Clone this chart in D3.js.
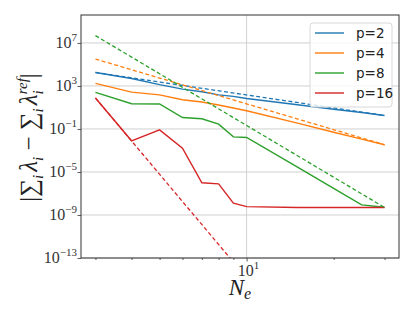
<!DOCTYPE html>
<html>
<head>
<meta charset="utf-8">
<script src="https://cdn.jsdelivr.net/npm/d3@7"></script>
<style>
  body { margin: 0; background: #fff; }
  svg { display: block; }
</style>
</head>
<body>
<svg id="chart"></svg>
<script>
// Data **********************************************************************
const neVals = [3, 4, 5, 6, 7, 8, 9, 10, 15, 20, 25, 30];   // N_e for the solid curves

const errP2  = [1.8e4, 5.0e3, 1.32e3, 5.1e2, 2.9e2, 1.5e2, 1.07e2, 69, 18, 6.9, 3.4, 1.8];
const errP4  = [1.74e3, 2.7e2, 1.5e2, 52, 32, 17, 8.9, 4.9, 0.35, 0.05, 0.0115, 0.0034];
const errP8  = [2.5e2, 22, 21, 1.17, 0.89, 0.28, 0.0186, 0.0162, 2.8e-5, 3.0e-7, 8.7e-9, 5.2e-9];
const errP16 = [76, 7.9e-3, 0.083, 1.66e-3, 1.0e-6, 7.8e-7, 1.26e-8, 6.0e-9, 5.0e-9, 5.0e-9, 5.0e-9, 5.0e-9];

// Dashed reference slopes, only the two ends of each straight line
const refNe  = [3, 30];
const refP2  = [1.8e4, 1.8];
const refP4  = [3.2e5, 3.4e-3];
const refP8  = [4.8e7, 5.0e-9];
const refP16 = [76, 7.9e-31];

const seriesNames = ["p=2", "p=4", "p=8", "p=16"];
const colors = ["#1f77b4", "#ff7f0e", "#2ca02c", "#d62728"];
const solidSeries = [errP2, errP4, errP8, errP16];
const refSeries = [refP2, refP4, refP8, refP16];

const xMinorTicks = [3, 4, 5, 6, 7, 8, 9, 20, 30];
const xMajorTicks = [10];
const yTicks = [1e7, 1e3, 1e-1, 1e-5, 1e-9, 1e-13];
const yTickExp = ["7", "3", "\u22121", "\u22125", "\u22129", "\u221213"];
/*****************************************************************************/

const width = 415, height = 312;
const margin = { left: 81, right: 16, top: 15, bottom: 54 };

const svg = d3.select("#chart")
    .attr("width", width)
    .attr("height", height);

// Log scales on both axes (x limits follow matplotlib's 5% margin in log space)
const x = d3.scaleLog()
    .domain([Math.pow(10, 0.4271), Math.pow(10, 1.5271)])
    .range([margin.left, width - margin.right]);

const y = d3.scaleLog()
    .domain([1e-13, Math.pow(10, 9.6)])
    .range([height - margin.bottom, margin.top]);

const plotW = width - margin.left - margin.right;
const plotH = height - margin.top - margin.bottom;

svg.append("clipPath").attr("id", "plotClip")
  .append("rect")
    .attr("x", margin.left)
    .attr("y", margin.top)
    .attr("width", plotW)
    .attr("height", plotH);

// Grid lines (major ticks only)
svg.append("g")
    .selectAll("line.hgrid")
    .data(yTicks)
    .enter().append("line")
    .attr("x1", margin.left).attr("x2", width - margin.right)
    .attr("y1", d => y(d)).attr("y2", d => y(d))
    .style("stroke", "#d0d0d0")
    .style("stroke-width", 1);

svg.append("g")
    .selectAll("line.vgrid")
    .data(xMajorTicks)
    .enter().append("line")
    .attr("x1", d => x(d)).attr("x2", d => x(d))
    .attr("y1", margin.top).attr("y2", height - margin.bottom)
    .style("stroke", "#d0d0d0")
    .style("stroke-width", 1);

// Lines
const line = d3.line()
    .x(d => x(d[0]))
    .y(d => y(d[1]));

const lineGroup = svg.append("g").attr("clip-path", "url(#plotClip)");

solidSeries.forEach((vals, i) => {
    lineGroup.append("path")
        .datum(neVals.map((n, k) => [n, vals[k]]))
        .attr("d", line)
        .style("fill", "none")
        .style("stroke", colors[i])
        .style("stroke-width", 1.4);
});

refSeries.forEach((vals, i) => {
    lineGroup.append("path")
        .datum(refNe.map((n, k) => [n, vals[k]]))
        .attr("d", line)
        .style("fill", "none")
        .style("stroke", colors[i])
        .style("stroke-width", 1.3)
        .style("stroke-dasharray", "4,2.5");
});

// Axes: ticks from d3, labels drawn by hand because of the superscripts
const xAxisMinor = d3.axisBottom(x).tickValues(xMinorTicks).tickSize(2).tickFormat("");
const xAxisMajor = d3.axisBottom(x).tickValues(xMajorTicks).tickSize(3.5).tickFormat("");
const yAxis = d3.axisLeft(y).tickValues(yTicks).tickSize(3.5).tickFormat("");

[xAxisMinor, xAxisMajor].forEach(ax => {
    const g = svg.append("g")
        .attr("transform", `translate(0,${height - margin.bottom})`)
        .call(ax);
    g.select(".domain").remove();
    g.selectAll("line").style("stroke", "#333").style("stroke-width", 0.8);
});

const yG = svg.append("g")
    .attr("transform", `translate(${margin.left},0)`)
    .call(yAxis);
yG.select(".domain").remove();
yG.selectAll("line").style("stroke", "#333").style("stroke-width", 0.8);

// Frame around the plot area
svg.append("rect")
    .attr("x", margin.left)
    .attr("y", margin.top)
    .attr("width", plotW)
    .attr("height", plotH)
    .style("fill", "none")
    .style("stroke", "#333")
    .style("stroke-width", 1);

const serif = "'Liberation Serif', 'DejaVu Serif', serif";

// y tick labels 10^k
yTicks.forEach((t, i) => {
    const lbl = svg.append("text")
        .attr("x", margin.left - 4)
        .attr("y", y(t) + 5)
        .attr("text-anchor", "end")
        .style("font-family", serif)
        .style("font-size", "16px")
        .style("fill", "#333");
    lbl.append("tspan").text("10");
    lbl.append("tspan")
        .attr("dy", -7)
        .style("font-size", "11px")
        .text(yTickExp[i]);
});

// x tick label 10^1
xMajorTicks.forEach(t => {
    const lbl = svg.append("text")
        .attr("x", x(t) + 2)
        .attr("y", height - margin.bottom + 18)
        .attr("text-anchor", "middle")
        .style("font-family", serif)
        .style("font-size", "16px")
        .style("fill", "#333");
    lbl.append("tspan").text("10");
    lbl.append("tspan")
        .attr("dy", -7)
        .style("font-size", "11px")
        .text("1");
});

// x axis label N_e
const xLabel = svg.append("text")
    .attr("x", margin.left + plotW / 2)
    .attr("y", 295)
    .attr("text-anchor", "middle")
    .style("font-family", serif)
    .style("font-style", "italic")
    .style("font-size", "23px")
    .style("fill", "#222");
xLabel.append("tspan").text("N");
xLabel.append("tspan").attr("dy", 4).style("font-size", "16px").text("e");

// y axis label |sum_i lambda_i - sum_i lambda_i^ref|
const yLabel = svg.append("text")
    .attr("transform", `translate(37,${margin.top + plotH / 2 + 1}) rotate(-90)`)
    .attr("text-anchor", "middle")
    .style("font-family", serif)
    .style("font-size", "25px")
    .style("fill", "#222");
yLabel.append("tspan").text("|\u2211");
yLabel.append("tspan").attr("dy", 6).style("font-size", "15px").style("font-style", "italic").text("i");
yLabel.append("tspan").attr("dy", -6).attr("dx", 3).style("font-style", "italic").text("\u03bb");
yLabel.append("tspan").attr("dy", 6).style("font-size", "15px").style("font-style", "italic").text("i");
yLabel.append("tspan").attr("dy", -6).text(" \u2212 \u2211");
yLabel.append("tspan").attr("dy", 6).style("font-size", "15px").style("font-style", "italic").text("i");
yLabel.append("tspan").attr("dy", -6).attr("dx", 3).style("font-style", "italic").text("\u03bb");
yLabel.append("tspan").attr("dy", 6).style("font-size", "15px").style("font-style", "italic").text("i");
yLabel.append("tspan").attr("dy", -16).attr("dx", -4).style("font-size", "15px").style("font-style", "italic").text("ref");
yLabel.append("tspan").attr("dy", 10).text("|");

// Legend
const legend = svg.append("g").attr("transform", "translate(310,23)");
legend.append("rect")
    .attr("width", 82)
    .attr("height", 84)
    .attr("rx", 3)
    .style("fill", "#fff")
    .style("fill-opacity", 0.8)
    .style("stroke", "#d8d8d8")
    .style("stroke-width", 1);

seriesNames.forEach((name, i) => {
    const row = legend.append("g").attr("transform", `translate(0,${10 + i * 20})`);
    row.append("line")
        .attr("x1", 5).attr("x2", 34)
        .attr("y1", 0).attr("y2", 0)
        .style("stroke", colors[i])
        .style("stroke-width", 1.4);
    row.append("text")
        .attr("x", 46)
        .attr("y", 5)
        .style("font-family", "'DejaVu Sans', sans-serif")
        .style("font-size", "13.5px")
        .style("fill", "#222")
        .text(name);
});
</script>
</body>
</html>
